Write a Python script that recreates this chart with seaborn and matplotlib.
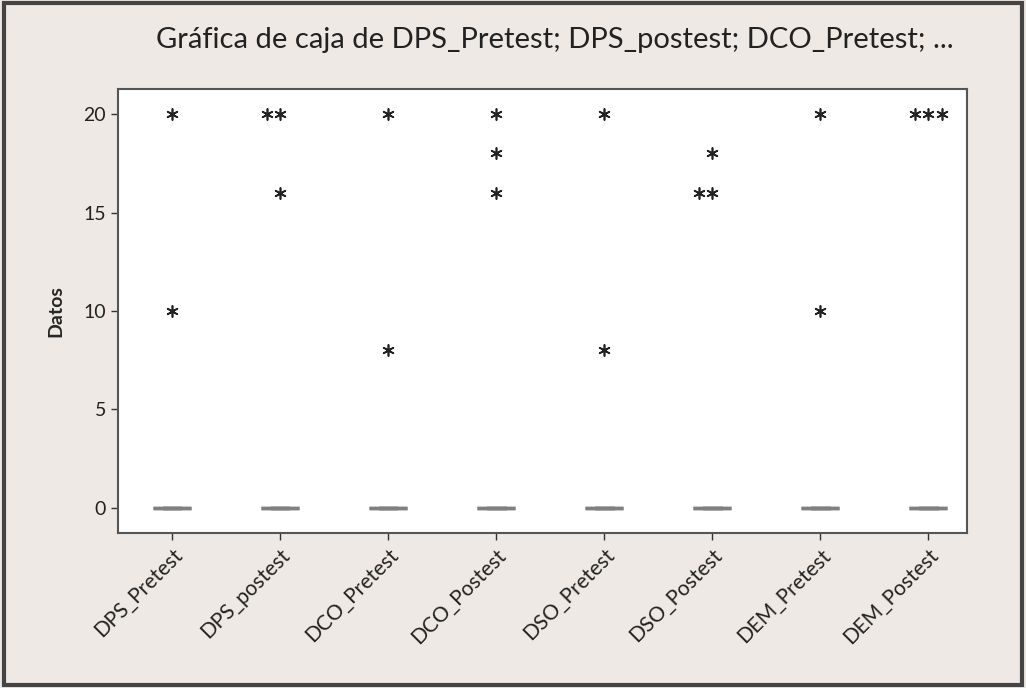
import pandas as pd
import seaborn as sns
import matplotlib.pyplot as plt
from matplotlib.patches import Rectangle

# columns of the Minitab box plot
columns = ['DPS_Pretest', 'DPS_postest', 'DCO_Pretest', 'DCO_Postest',
           'DSO_Pretest', 'DSO_Postest', 'DEM_Pretest', 'DEM_Postest']
# non-zero scores (shown as outliers '*'), everything else is 0
outliers = [
    [20, 10],
    [20, 20, 16],
    [20, 8],
    [20, 18, 16],
    [20, 8],
    [18, 16, 16],
    [20, 10],
    [20, 20, 20],
]
n_students = 25

rows = []
for col, outs in zip(columns, outliers):
    vals = outs + [0] * (n_students - len(outs))
    for v in vals:
        rows.append({'Variable': col, 'Datos': v})
df = pd.DataFrame(rows)
df_out = df[df['Datos'] != 0]

sns.set_style('white')
plt.rcParams['font.family'] = ['Lato', 'DejaVu Sans']

fig = plt.figure(figsize=(10.26, 6.88), dpi=100, facecolor='#eee9e4')
ax = fig.add_axes([0.115, 0.2253, 0.8275, 0.6453])
ax.set_facecolor('white')

sns.boxplot(data=df, x='Variable', y='Datos', order=columns, ax=ax,
            showfliers=False, width=0.35, color='white',
            linecolor='#808080', linewidth=2.5)
sns.swarmplot(data=df_out, x='Variable', y='Datos', order=columns, ax=ax,
              marker=(6, 2, 0), color='#222222', size=8, linewidth=1.2)

ax.set_xlim(-0.5, 7.36)
ax.set_ylim(-1.27, 21.27)
ax.set_yticks([0, 5, 10, 15, 20])
ax.tick_params(axis='both', direction='out', length=5, width=1, color='#333333',
               labelsize=14, labelcolor='#222222', bottom=True, left=True)
ax.set_xticks(range(len(columns)))
ax.set_xticklabels(columns, rotation=45, ha='right', rotation_mode='anchor',
                   fontsize=15)
ax.set_xlabel('')
ax.set_ylabel('Datos', fontsize=14, fontweight='bold', labelpad=14)
for s in ax.spines.values():
    s.set_color('#555555')
    s.set_linewidth(1.5)

fig.text(0.541, 0.942, 'Gráfica de caja de DPS_Pretest; DPS_postest; DCO_Pretest; ...',
         ha='center', va='center', fontsize=21, color='#222222')

fig.patches.append(Rectangle((0.004, 0.005), 0.992, 0.99, transform=fig.transFigure,
                             fill=False, edgecolor='#444444', linewidth=3))

fig.savefig('out.png', dpi=100, facecolor=fig.get_facecolor())
